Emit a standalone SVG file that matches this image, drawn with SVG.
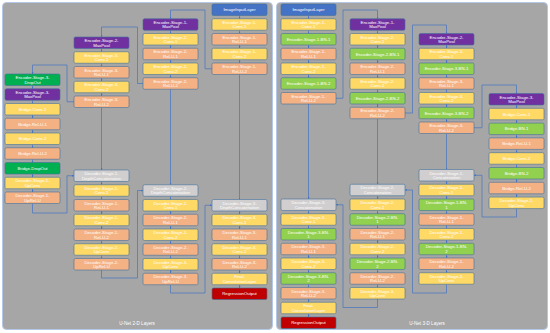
<svg xmlns="http://www.w3.org/2000/svg" width="550" height="333" viewBox="0 0 550 333">
<style>
.pn{fill:#a6a6a6;stroke:#b4c7e7;stroke-width:1}
.n rect{stroke:#41719c;stroke-width:0.6}
.y rect{fill:#ffd966}.o rect{fill:#f4b183}.g rect{fill:#92d050}.d rect{fill:#00b050}
.p rect{fill:#7030a0}.b rect{fill:#4472c4}.c rect{fill:#d0cece}.r rect{fill:#c00000}
.n text{font-family:"Liberation Sans",Arial,sans-serif;font-size:4.3px;fill:#fff;text-anchor:middle}
.t{font-family:"Liberation Sans",Arial,sans-serif;font-size:4.6px;fill:#fff;text-anchor:middle}
.e line,.e polyline{fill:none;stroke:#4472c4;stroke-width:0.7;marker-end:url(#a)}
</style>
<defs>
<marker id="a" viewBox="0 0 4 4" markerWidth="2" markerHeight="2" refX="4" refY="2" orient="auto" markerUnits="userSpaceOnUse"><path d="M0,0L4,2L0,4z" fill="#4472c4"/></marker>
</defs>
<rect width="550" height="333" fill="#fff"/>
<g id="panels">
<rect class="pn" x="2.5" y="2.5" width="270" height="327" rx="4"/>
<rect class="pn" x="276.5" y="2.5" width="271" height="327" rx="4"/>
<text class="t" x="137" y="324.5">U-Net 2-D Layers</text>
<text class="t" x="427" y="324.5">U-Net 3-D Layers</text>
</g>
<g id="connectors" class="e">
<line x1="32.5" y1="85.5" x2="32.5" y2="88.75"/><line x1="32.5" y1="100.25" x2="32.5" y2="103.5"/><line x1="32.5" y1="115" x2="32.5" y2="118.25"/><line x1="32.5" y1="129.75" x2="32.5" y2="133"/><line x1="32.5" y1="144.5" x2="32.5" y2="147.75"/><line x1="32.5" y1="159.25" x2="32.5" y2="162.5"/><line x1="32.5" y1="174" x2="32.5" y2="177.25"/><line x1="32.5" y1="188.75" x2="32.5" y2="192"/>
<line x1="101.5" y1="48.5" x2="101.5" y2="51.75"/><line x1="101.5" y1="63.25" x2="101.5" y2="66.5"/><line x1="101.5" y1="78" x2="101.5" y2="81.25"/><line x1="101.5" y1="92.75" x2="101.5" y2="96"/><line x1="101.5" y1="107.5" x2="101.5" y2="170"/><line x1="101.5" y1="181.5" x2="101.5" y2="184.75"/><line x1="101.5" y1="196.25" x2="101.5" y2="199.5"/><line x1="101.5" y1="211" x2="101.5" y2="214.25"/><line x1="101.5" y1="225.75" x2="101.5" y2="229"/><line x1="101.5" y1="240.5" x2="101.5" y2="243.75"/><line x1="101.5" y1="255.25" x2="101.5" y2="258.5"/>
<line x1="170.5" y1="30.25" x2="170.5" y2="33.5"/><line x1="170.5" y1="45" x2="170.5" y2="48.25"/><line x1="170.5" y1="59.75" x2="170.5" y2="63"/><line x1="170.5" y1="74.5" x2="170.5" y2="77.75"/><line x1="170.5" y1="89.25" x2="170.5" y2="184.75"/><line x1="170.5" y1="196.25" x2="170.5" y2="199.5"/><line x1="170.5" y1="211" x2="170.5" y2="214.25"/><line x1="170.5" y1="225.75" x2="170.5" y2="229"/><line x1="170.5" y1="240.5" x2="170.5" y2="243.75"/><line x1="170.5" y1="255.25" x2="170.5" y2="258.5"/><line x1="170.5" y1="270" x2="170.5" y2="273.25"/>
<line x1="239.5" y1="15.5" x2="239.5" y2="18.75"/><line x1="239.5" y1="30.25" x2="239.5" y2="33.5"/><line x1="239.5" y1="45" x2="239.5" y2="48.25"/><line x1="239.5" y1="59.75" x2="239.5" y2="63"/><line x1="239.5" y1="74.5" x2="239.5" y2="199.5"/><line x1="239.5" y1="211" x2="239.5" y2="214.25"/><line x1="239.5" y1="225.75" x2="239.5" y2="229"/><line x1="239.5" y1="240.5" x2="239.5" y2="243.75"/><line x1="239.5" y1="255.25" x2="239.5" y2="258.5"/><line x1="239.5" y1="270" x2="239.5" y2="273.25"/><line x1="239.5" y1="284.75" x2="239.5" y2="288"/>
<polyline points="212,68.75 205,68.75 205,10 170.5,10 170.5,18.75"/>
<polyline points="143,83.5 137.5,83.5 137.5,27 101.5,27 101.5,37"/>
<polyline points="74,101.75 67,101.75 67,65 32.5,65 32.5,74"/>
<polyline points="32.5,203.5 32.5,213 67,213 67,175.75 74,175.75"/>
<polyline points="101.5,270 101.5,278 137.5,278 137.5,190.5 143,190.5"/>
<polyline points="170.5,284.75 170.5,293 205,293 205,205.25 212,205.25"/>
<line x1="308.5" y1="15.5" x2="308.5" y2="18.75"/><line x1="308.5" y1="30.25" x2="308.5" y2="33.5"/><line x1="308.5" y1="45" x2="308.5" y2="48.25"/><line x1="308.5" y1="59.75" x2="308.5" y2="63"/><line x1="308.5" y1="74.5" x2="308.5" y2="77.75"/><line x1="308.5" y1="89.25" x2="308.5" y2="92.5"/><line x1="308.5" y1="104" x2="308.5" y2="199"/><line x1="308.5" y1="210.5" x2="308.5" y2="213.75"/><line x1="308.5" y1="225.25" x2="308.5" y2="228.5"/><line x1="308.5" y1="240" x2="308.5" y2="243.25"/><line x1="308.5" y1="254.75" x2="308.5" y2="258"/><line x1="308.5" y1="269.5" x2="308.5" y2="272.75"/><line x1="308.5" y1="284.25" x2="308.5" y2="287.5"/><line x1="308.5" y1="299" x2="308.5" y2="302.25"/><line x1="308.5" y1="313.75" x2="308.5" y2="317"/>
<line x1="377.5" y1="30.25" x2="377.5" y2="33.5"/><line x1="377.5" y1="45" x2="377.5" y2="48.25"/><line x1="377.5" y1="59.75" x2="377.5" y2="63"/><line x1="377.5" y1="74.5" x2="377.5" y2="77.75"/><line x1="377.5" y1="89.25" x2="377.5" y2="92.5"/><line x1="377.5" y1="104" x2="377.5" y2="107.25"/><line x1="377.5" y1="118.75" x2="377.5" y2="184.25"/><line x1="377.5" y1="195.75" x2="377.5" y2="199"/><line x1="377.5" y1="210.5" x2="377.5" y2="213.75"/><line x1="377.5" y1="225.25" x2="377.5" y2="228.5"/><line x1="377.5" y1="240" x2="377.5" y2="243.25"/><line x1="377.5" y1="254.75" x2="377.5" y2="258"/><line x1="377.5" y1="269.5" x2="377.5" y2="272.75"/><line x1="377.5" y1="284.25" x2="377.5" y2="287.5"/>
<line x1="446.5" y1="45" x2="446.5" y2="48.25"/><line x1="446.5" y1="59.75" x2="446.5" y2="63"/><line x1="446.5" y1="74.5" x2="446.5" y2="77.75"/><line x1="446.5" y1="89.25" x2="446.5" y2="92.5"/><line x1="446.5" y1="104" x2="446.5" y2="107.25"/><line x1="446.5" y1="118.75" x2="446.5" y2="122"/><line x1="446.5" y1="133.5" x2="446.5" y2="169.5"/><line x1="446.5" y1="181" x2="446.5" y2="184.25"/><line x1="446.5" y1="195.75" x2="446.5" y2="199"/><line x1="446.5" y1="210.5" x2="446.5" y2="213.75"/><line x1="446.5" y1="225.25" x2="446.5" y2="228.5"/><line x1="446.5" y1="240" x2="446.5" y2="243.25"/><line x1="446.5" y1="254.75" x2="446.5" y2="258"/><line x1="446.5" y1="269.5" x2="446.5" y2="272.75"/>
<line x1="516.5" y1="105" x2="516.5" y2="108.3"/><line x1="516.5" y1="119.8" x2="516.5" y2="123.1"/><line x1="516.5" y1="134.6" x2="516.5" y2="137.9"/><line x1="516.5" y1="149.4" x2="516.5" y2="152.7"/><line x1="516.5" y1="164.2" x2="516.5" y2="167.5"/><line x1="516.5" y1="179" x2="516.5" y2="182.3"/><line x1="516.5" y1="193.8" x2="516.5" y2="197.1"/>
<polyline points="336,98.25 343,98.25 343,10 377.5,10 377.5,18.75"/>
<polyline points="405,113 412.5,113 412.5,25 446.5,25 446.5,33.5"/>
<polyline points="474,127.75 482,127.75 482,85 516.5,85 516.5,93.5"/>
<polyline points="516.5,208.6 516.5,217 482,217 482,175.25 474,175.25"/>
<polyline points="446.5,284.25 446.5,293 412.5,293 412.5,190 405,190"/>
<polyline points="377.5,299 377.5,307.5 343,307.5 343,204.75 336,204.75"/>
</g>
<g id="A0" class="n d" transform="translate(5,74)"><rect width="55" height="11.5" rx="1.5"/><text x="27.5" y="5">Encoder-Stage-3-</text><text x="27.5" y="9.6">DropOut</text></g>
<g id="A1" class="n p" transform="translate(5,88.75)"><rect width="55" height="11.5" rx="1.5"/><text x="27.5" y="5">Encoder-Stage-3-</text><text x="27.5" y="9.6">MaxPool</text></g>
<g id="A2" class="n y" transform="translate(5,103.5)"><rect width="55" height="11.5" rx="1.5"/><text x="27.5" y="7.3">Bridge-Conv-1</text></g>
<g id="A3" class="n o" transform="translate(5,118.25)"><rect width="55" height="11.5" rx="1.5"/><text x="27.5" y="7.3">Bridge-ReLU-1</text></g>
<g id="A4" class="n y" transform="translate(5,133)"><rect width="55" height="11.5" rx="1.5"/><text x="27.5" y="7.3">Bridge-Conv-2</text></g>
<g id="A5" class="n o" transform="translate(5,147.75)"><rect width="55" height="11.5" rx="1.5"/><text x="27.5" y="7.3">Bridge-ReLU-2</text></g>
<g id="A6" class="n d" transform="translate(5,162.5)"><rect width="55" height="11.5" rx="1.5"/><text x="27.5" y="7.3">Bridge-DropOut</text></g>
<g id="A7" class="n y" transform="translate(5,177.25)"><rect width="55" height="11.5" rx="1.5"/><text x="27.5" y="5">Decoder-Stage-1-</text><text x="27.5" y="9.6">UpConv</text></g>
<g id="A8" class="n o" transform="translate(5,192)"><rect width="55" height="11.5" rx="1.5"/><text x="27.5" y="5">Decoder-Stage-1-</text><text x="27.5" y="9.6">UpReLU</text></g>
<g id="B0" class="n p" transform="translate(74,37)"><rect width="55" height="11.5" rx="1.5"/><text x="27.5" y="5">Encoder-Stage-2-</text><text x="27.5" y="9.6">MaxPool</text></g>
<g id="B1" class="n y" transform="translate(74,51.75)"><rect width="55" height="11.5" rx="1.5"/><text x="27.5" y="5">Encoder-Stage-3-</text><text x="27.5" y="9.6">Conv-1</text></g>
<g id="B2" class="n o" transform="translate(74,66.5)"><rect width="55" height="11.5" rx="1.5"/><text x="27.5" y="5">Encoder-Stage-3-</text><text x="27.5" y="9.6">ReLU-1</text></g>
<g id="B3" class="n y" transform="translate(74,81.25)"><rect width="55" height="11.5" rx="1.5"/><text x="27.5" y="5">Encoder-Stage-3-</text><text x="27.5" y="9.6">Conv-2</text></g>
<g id="B4" class="n o" transform="translate(74,96)"><rect width="55" height="11.5" rx="1.5"/><text x="27.5" y="5">Encoder-Stage-3-</text><text x="27.5" y="9.6">ReLU-2</text></g>
<g id="B5" class="n c" transform="translate(74,170)"><rect width="55" height="11.5" rx="1.5"/><text x="27.5" y="5">Decoder-Stage-1-</text><text x="27.5" y="9.6">DepthConcatenation</text></g>
<g id="B6" class="n y" transform="translate(74,184.75)"><rect width="55" height="11.5" rx="1.5"/><text x="27.5" y="5">Decoder-Stage-1-</text><text x="27.5" y="9.6">Conv-1</text></g>
<g id="B7" class="n o" transform="translate(74,199.5)"><rect width="55" height="11.5" rx="1.5"/><text x="27.5" y="5">Decoder-Stage-1-</text><text x="27.5" y="9.6">ReLU-1</text></g>
<g id="B8" class="n y" transform="translate(74,214.25)"><rect width="55" height="11.5" rx="1.5"/><text x="27.5" y="5">Decoder-Stage-1-</text><text x="27.5" y="9.6">Conv-2</text></g>
<g id="B9" class="n o" transform="translate(74,229)"><rect width="55" height="11.5" rx="1.5"/><text x="27.5" y="5">Decoder-Stage-1-</text><text x="27.5" y="9.6">ReLU-2</text></g>
<g id="B10" class="n y" transform="translate(74,243.75)"><rect width="55" height="11.5" rx="1.5"/><text x="27.5" y="5">Decoder-Stage-2-</text><text x="27.5" y="9.6">UpConv</text></g>
<g id="B11" class="n o" transform="translate(74,258.5)"><rect width="55" height="11.5" rx="1.5"/><text x="27.5" y="5">Decoder-Stage-2-</text><text x="27.5" y="9.6">UpReLU</text></g>
<g id="C0" class="n p" transform="translate(143,18.75)"><rect width="55" height="11.5" rx="1.5"/><text x="27.5" y="5">Encoder-Stage-1-</text><text x="27.5" y="9.6">MaxPool</text></g>
<g id="C1" class="n y" transform="translate(143,33.5)"><rect width="55" height="11.5" rx="1.5"/><text x="27.5" y="5">Encoder-Stage-2-</text><text x="27.5" y="9.6">Conv-1</text></g>
<g id="C2" class="n o" transform="translate(143,48.25)"><rect width="55" height="11.5" rx="1.5"/><text x="27.5" y="5">Encoder-Stage-2-</text><text x="27.5" y="9.6">ReLU-1</text></g>
<g id="C3" class="n y" transform="translate(143,63)"><rect width="55" height="11.5" rx="1.5"/><text x="27.5" y="5">Encoder-Stage-2-</text><text x="27.5" y="9.6">Conv-2</text></g>
<g id="C4" class="n o" transform="translate(143,77.75)"><rect width="55" height="11.5" rx="1.5"/><text x="27.5" y="5">Encoder-Stage-2-</text><text x="27.5" y="9.6">ReLU-2</text></g>
<g id="C5" class="n c" transform="translate(143,184.75)"><rect width="55" height="11.5" rx="1.5"/><text x="27.5" y="5">Decoder-Stage-2-</text><text x="27.5" y="9.6">DepthConcatenation</text></g>
<g id="C6" class="n y" transform="translate(143,199.5)"><rect width="55" height="11.5" rx="1.5"/><text x="27.5" y="5">Decoder-Stage-2-</text><text x="27.5" y="9.6">Conv-1</text></g>
<g id="C7" class="n o" transform="translate(143,214.25)"><rect width="55" height="11.5" rx="1.5"/><text x="27.5" y="5">Decoder-Stage-2-</text><text x="27.5" y="9.6">ReLU-1</text></g>
<g id="C8" class="n y" transform="translate(143,229)"><rect width="55" height="11.5" rx="1.5"/><text x="27.5" y="5">Decoder-Stage-2-</text><text x="27.5" y="9.6">Conv-2</text></g>
<g id="C9" class="n o" transform="translate(143,243.75)"><rect width="55" height="11.5" rx="1.5"/><text x="27.5" y="5">Decoder-Stage-2-</text><text x="27.5" y="9.6">ReLU-2</text></g>
<g id="C10" class="n y" transform="translate(143,258.5)"><rect width="55" height="11.5" rx="1.5"/><text x="27.5" y="5">Decoder-Stage-3-</text><text x="27.5" y="9.6">UpConv</text></g>
<g id="C11" class="n o" transform="translate(143,273.25)"><rect width="55" height="11.5" rx="1.5"/><text x="27.5" y="5">Decoder-Stage-3-</text><text x="27.5" y="9.6">UpReLU</text></g>
<g id="D0" class="n b" transform="translate(212,4)"><rect width="55" height="11.5" rx="1.5"/><text x="27.5" y="7.3">ImageInputLayer</text></g>
<g id="D1" class="n y" transform="translate(212,18.75)"><rect width="55" height="11.5" rx="1.5"/><text x="27.5" y="5">Encoder-Stage-1-</text><text x="27.5" y="9.6">Conv-1</text></g>
<g id="D2" class="n o" transform="translate(212,33.5)"><rect width="55" height="11.5" rx="1.5"/><text x="27.5" y="5">Encoder-Stage-1-</text><text x="27.5" y="9.6">ReLU-1</text></g>
<g id="D3" class="n y" transform="translate(212,48.25)"><rect width="55" height="11.5" rx="1.5"/><text x="27.5" y="5">Encoder-Stage-1-</text><text x="27.5" y="9.6">Conv-2</text></g>
<g id="D4" class="n o" transform="translate(212,63)"><rect width="55" height="11.5" rx="1.5"/><text x="27.5" y="5">Encoder-Stage-1-</text><text x="27.5" y="9.6">ReLU-2</text></g>
<g id="D5" class="n c" transform="translate(212,199.5)"><rect width="55" height="11.5" rx="1.5"/><text x="27.5" y="5">Decoder-Stage-3-</text><text x="27.5" y="9.6">DepthConcatenation</text></g>
<g id="D6" class="n y" transform="translate(212,214.25)"><rect width="55" height="11.5" rx="1.5"/><text x="27.5" y="5">Decoder-Stage-3-</text><text x="27.5" y="9.6">Conv-1</text></g>
<g id="D7" class="n o" transform="translate(212,229)"><rect width="55" height="11.5" rx="1.5"/><text x="27.5" y="5">Decoder-Stage-3-</text><text x="27.5" y="9.6">ReLU-1</text></g>
<g id="D8" class="n y" transform="translate(212,243.75)"><rect width="55" height="11.5" rx="1.5"/><text x="27.5" y="5">Decoder-Stage-3-</text><text x="27.5" y="9.6">Conv-2</text></g>
<g id="D9" class="n o" transform="translate(212,258.5)"><rect width="55" height="11.5" rx="1.5"/><text x="27.5" y="5">Decoder-Stage-3-</text><text x="27.5" y="9.6">ReLU-2</text></g>
<g id="D10" class="n y" transform="translate(212,273.25)"><rect width="55" height="11.5" rx="1.5"/><text x="27.5" y="5">Final-</text><text x="27.5" y="9.6">ConvolutionLayer</text></g>
<g id="D11" class="n r" transform="translate(212,288)"><rect width="55" height="11.5" rx="1.5"/><text x="27.5" y="7.3">RegressionOutput</text></g>
<g id="E0" class="n b" transform="translate(281,4)"><rect width="55" height="11.5" rx="1.5"/><text x="27.5" y="7.3">ImageInputLayer</text></g>
<g id="E1" class="n y" transform="translate(281,18.75)"><rect width="55" height="11.5" rx="1.5"/><text x="27.5" y="5">Encoder-Stage-1-</text><text x="27.5" y="9.6">Conv-1</text></g>
<g id="E2" class="n g" transform="translate(281,33.5)"><rect width="55" height="11.5" rx="1.5"/><text x="27.5" y="7.3">Encoder-Stage-1-BN-1</text></g>
<g id="E3" class="n o" transform="translate(281,48.25)"><rect width="55" height="11.5" rx="1.5"/><text x="27.5" y="5">Encoder-Stage-1-</text><text x="27.5" y="9.6">ReLU-1</text></g>
<g id="E4" class="n y" transform="translate(281,63)"><rect width="55" height="11.5" rx="1.5"/><text x="27.5" y="5">Encoder-Stage-1-</text><text x="27.5" y="9.6">Conv-2</text></g>
<g id="E5" class="n g" transform="translate(281,77.75)"><rect width="55" height="11.5" rx="1.5"/><text x="27.5" y="7.3">Encoder-Stage-1-BN-2</text></g>
<g id="E6" class="n o" transform="translate(281,92.5)"><rect width="55" height="11.5" rx="1.5"/><text x="27.5" y="5">Encoder-Stage-1-</text><text x="27.5" y="9.6">ReLU-2</text></g>
<g id="E7" class="n c" transform="translate(281,199)"><rect width="55" height="11.5" rx="1.5"/><text x="27.5" y="5">Decoder-Stage-3-</text><text x="27.5" y="9.6">Concatenation</text></g>
<g id="E8" class="n y" transform="translate(281,213.75)"><rect width="55" height="11.5" rx="1.5"/><text x="27.5" y="5">Decoder-Stage-3-</text><text x="27.5" y="9.6">Conv-1</text></g>
<g id="E9" class="n g" transform="translate(281,228.5)"><rect width="55" height="11.5" rx="1.5"/><text x="27.5" y="5">Decoder-Stage-3-BN-</text><text x="27.5" y="9.6">1</text></g>
<g id="E10" class="n o" transform="translate(281,243.25)"><rect width="55" height="11.5" rx="1.5"/><text x="27.5" y="5">Decoder-Stage-3-</text><text x="27.5" y="9.6">ReLU-1</text></g>
<g id="E11" class="n y" transform="translate(281,258)"><rect width="55" height="11.5" rx="1.5"/><text x="27.5" y="5">Decoder-Stage-3-</text><text x="27.5" y="9.6">Conv-2</text></g>
<g id="E12" class="n g" transform="translate(281,272.75)"><rect width="55" height="11.5" rx="1.5"/><text x="27.5" y="5">Decoder-Stage-3-BN-</text><text x="27.5" y="9.6">2</text></g>
<g id="E13" class="n o" transform="translate(281,287.5)"><rect width="55" height="11.5" rx="1.5"/><text x="27.5" y="5">Decoder-Stage-3-</text><text x="27.5" y="9.6">ReLU-2</text></g>
<g id="E14" class="n y" transform="translate(281,302.25)"><rect width="55" height="11.5" rx="1.5"/><text x="27.5" y="5">Final-</text><text x="27.5" y="9.6">ConvolutionLayer</text></g>
<g id="E15" class="n r" transform="translate(281,317)"><rect width="55" height="11.5" rx="1.5"/><text x="27.5" y="7.3">RegressionOutput</text></g>
<g id="F0" class="n p" transform="translate(350,18.75)"><rect width="55" height="11.5" rx="1.5"/><text x="27.5" y="5">Encoder-Stage-1-</text><text x="27.5" y="9.6">MaxPool</text></g>
<g id="F1" class="n y" transform="translate(350,33.5)"><rect width="55" height="11.5" rx="1.5"/><text x="27.5" y="5">Encoder-Stage-2-</text><text x="27.5" y="9.6">Conv-1</text></g>
<g id="F2" class="n g" transform="translate(350,48.25)"><rect width="55" height="11.5" rx="1.5"/><text x="27.5" y="7.3">Encoder-Stage-2-BN-1</text></g>
<g id="F3" class="n o" transform="translate(350,63)"><rect width="55" height="11.5" rx="1.5"/><text x="27.5" y="5">Encoder-Stage-2-</text><text x="27.5" y="9.6">ReLU-1</text></g>
<g id="F4" class="n y" transform="translate(350,77.75)"><rect width="55" height="11.5" rx="1.5"/><text x="27.5" y="5">Encoder-Stage-2-</text><text x="27.5" y="9.6">Conv-2</text></g>
<g id="F5" class="n g" transform="translate(350,92.5)"><rect width="55" height="11.5" rx="1.5"/><text x="27.5" y="7.3">Encoder-Stage-2-BN-2</text></g>
<g id="F6" class="n o" transform="translate(350,107.25)"><rect width="55" height="11.5" rx="1.5"/><text x="27.5" y="5">Encoder-Stage-2-</text><text x="27.5" y="9.6">ReLU-2</text></g>
<g id="F7" class="n c" transform="translate(350,184.25)"><rect width="55" height="11.5" rx="1.5"/><text x="27.5" y="5">Decoder-Stage-2-</text><text x="27.5" y="9.6">Concatenation</text></g>
<g id="F8" class="n y" transform="translate(350,199)"><rect width="55" height="11.5" rx="1.5"/><text x="27.5" y="5">Decoder-Stage-2-</text><text x="27.5" y="9.6">Conv-1</text></g>
<g id="F9" class="n g" transform="translate(350,213.75)"><rect width="55" height="11.5" rx="1.5"/><text x="27.5" y="5">Decoder-Stage-2-BN-</text><text x="27.5" y="9.6">1</text></g>
<g id="F10" class="n o" transform="translate(350,228.5)"><rect width="55" height="11.5" rx="1.5"/><text x="27.5" y="5">Decoder-Stage-2-</text><text x="27.5" y="9.6">ReLU-1</text></g>
<g id="F11" class="n y" transform="translate(350,243.25)"><rect width="55" height="11.5" rx="1.5"/><text x="27.5" y="5">Decoder-Stage-2-</text><text x="27.5" y="9.6">Conv-2</text></g>
<g id="F12" class="n g" transform="translate(350,258)"><rect width="55" height="11.5" rx="1.5"/><text x="27.5" y="5">Decoder-Stage-2-BN-</text><text x="27.5" y="9.6">2</text></g>
<g id="F13" class="n o" transform="translate(350,272.75)"><rect width="55" height="11.5" rx="1.5"/><text x="27.5" y="5">Decoder-Stage-2-</text><text x="27.5" y="9.6">ReLU-2</text></g>
<g id="F14" class="n y" transform="translate(350,287.5)"><rect width="55" height="11.5" rx="1.5"/><text x="27.5" y="5">Decoder-Stage-3-</text><text x="27.5" y="9.6">UpConv</text></g>
<g id="G0" class="n p" transform="translate(419,33.5)"><rect width="55" height="11.5" rx="1.5"/><text x="27.5" y="5">Encoder-Stage-2-</text><text x="27.5" y="9.6">MaxPool</text></g>
<g id="G1" class="n y" transform="translate(419,48.25)"><rect width="55" height="11.5" rx="1.5"/><text x="27.5" y="5">Encoder-Stage-3-</text><text x="27.5" y="9.6">Conv-1</text></g>
<g id="G2" class="n g" transform="translate(419,63)"><rect width="55" height="11.5" rx="1.5"/><text x="27.5" y="7.3">Encoder-Stage-3-BN-1</text></g>
<g id="G3" class="n o" transform="translate(419,77.75)"><rect width="55" height="11.5" rx="1.5"/><text x="27.5" y="5">Encoder-Stage-3-</text><text x="27.5" y="9.6">ReLU-1</text></g>
<g id="G4" class="n y" transform="translate(419,92.5)"><rect width="55" height="11.5" rx="1.5"/><text x="27.5" y="5">Encoder-Stage-3-</text><text x="27.5" y="9.6">Conv-2</text></g>
<g id="G5" class="n g" transform="translate(419,107.25)"><rect width="55" height="11.5" rx="1.5"/><text x="27.5" y="7.3">Encoder-Stage-3-BN-2</text></g>
<g id="G6" class="n o" transform="translate(419,122)"><rect width="55" height="11.5" rx="1.5"/><text x="27.5" y="5">Encoder-Stage-3-</text><text x="27.5" y="9.6">ReLU-2</text></g>
<g id="G7" class="n c" transform="translate(419,169.5)"><rect width="55" height="11.5" rx="1.5"/><text x="27.5" y="5">Decoder-Stage-1-</text><text x="27.5" y="9.6">Concatenation</text></g>
<g id="G8" class="n y" transform="translate(419,184.25)"><rect width="55" height="11.5" rx="1.5"/><text x="27.5" y="5">Decoder-Stage-1-</text><text x="27.5" y="9.6">Conv-1</text></g>
<g id="G9" class="n g" transform="translate(419,199)"><rect width="55" height="11.5" rx="1.5"/><text x="27.5" y="5">Decoder-Stage-1-BN-</text><text x="27.5" y="9.6">1</text></g>
<g id="G10" class="n o" transform="translate(419,213.75)"><rect width="55" height="11.5" rx="1.5"/><text x="27.5" y="5">Decoder-Stage-1-</text><text x="27.5" y="9.6">ReLU-1</text></g>
<g id="G11" class="n y" transform="translate(419,228.5)"><rect width="55" height="11.5" rx="1.5"/><text x="27.5" y="5">Decoder-Stage-1-</text><text x="27.5" y="9.6">Conv-2</text></g>
<g id="G12" class="n g" transform="translate(419,243.25)"><rect width="55" height="11.5" rx="1.5"/><text x="27.5" y="5">Decoder-Stage-1-BN-</text><text x="27.5" y="9.6">2</text></g>
<g id="G13" class="n o" transform="translate(419,258)"><rect width="55" height="11.5" rx="1.5"/><text x="27.5" y="5">Decoder-Stage-1-</text><text x="27.5" y="9.6">ReLU-2</text></g>
<g id="G14" class="n y" transform="translate(419,272.75)"><rect width="55" height="11.5" rx="1.5"/><text x="27.5" y="5">Decoder-Stage-2-</text><text x="27.5" y="9.6">UpConv</text></g>
<g id="H0" class="n p" transform="translate(489,93.5)"><rect width="55" height="11.5" rx="1.5"/><text x="27.5" y="5">Encoder-Stage-3-</text><text x="27.5" y="9.6">MaxPool</text></g>
<g id="H1" class="n y" transform="translate(489,108.3)"><rect width="55" height="11.5" rx="1.5"/><text x="27.5" y="7.3">Bridge-Conv-1</text></g>
<g id="H2" class="n g" transform="translate(489,123.1)"><rect width="55" height="11.5" rx="1.5"/><text x="27.5" y="7.3">Bridge-BN-1</text></g>
<g id="H3" class="n o" transform="translate(489,137.9)"><rect width="55" height="11.5" rx="1.5"/><text x="27.5" y="7.3">Bridge-ReLU-1</text></g>
<g id="H4" class="n y" transform="translate(489,152.7)"><rect width="55" height="11.5" rx="1.5"/><text x="27.5" y="7.3">Bridge-Conv-2</text></g>
<g id="H5" class="n g" transform="translate(489,167.5)"><rect width="55" height="11.5" rx="1.5"/><text x="27.5" y="7.3">Bridge-BN-2</text></g>
<g id="H6" class="n o" transform="translate(489,182.3)"><rect width="55" height="11.5" rx="1.5"/><text x="27.5" y="7.3">Bridge-ReLU-2</text></g>
<g id="H7" class="n y" transform="translate(489,197.1)"><rect width="55" height="11.5" rx="1.5"/><text x="27.5" y="5">Decoder-Stage-1-</text><text x="27.5" y="9.6">UpConv</text></g>
</svg>
